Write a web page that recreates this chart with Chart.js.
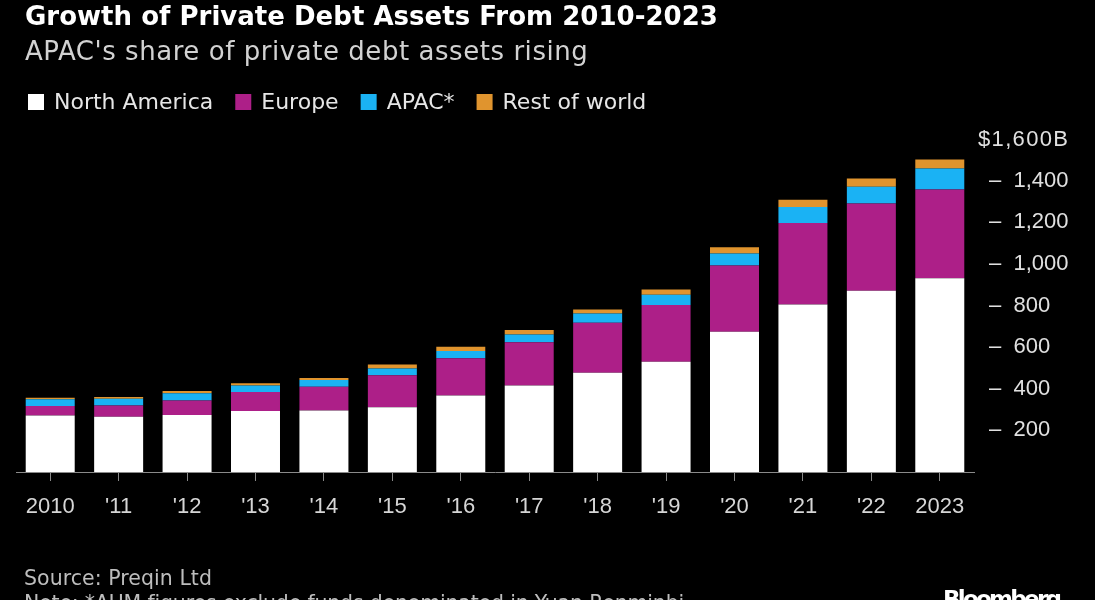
<!DOCTYPE html>
<html>
<head>
<meta charset="utf-8">
<script src="https://cdn.jsdelivr.net/npm/chart.js@4.4.4/dist/chart.umd.min.js"></script>
<style>
  html, body { margin: 0; padding: 0; background: #000; }
  #wrap { width: 1095px; height: 600px; overflow: hidden; background: #000; }
</style>
</head>
<body>
<div id="wrap"><canvas id="chart" width="1095" height="600"></canvas></div>
<script>
  // values in $B
  const years = ['2010', "'11", "'12", "'13", "'14", "'15", "'16", "'17", "'18", "'19", "'20", "'21", "'22", '2023'];
  const northAmerica = [272, 266, 274, 293, 295, 311, 368, 416, 477, 530, 674, 805, 871, 931];
  const europe = [45, 54, 70, 91, 115, 154, 178, 208, 240, 272, 318, 391, 419, 426];
  const apac = [32, 32, 34, 32, 32, 32, 35, 37, 45, 50, 58, 77, 80, 101];
  const restOfWorld = [8, 8, 11, 11, 10, 19, 21, 21, 19, 25, 30, 35, 40, 43];
  const yTicks = [200, 400, 600, 800, 1000, 1200, 1400];

  const TEXT_FONT = '"DejaVu Sans", "Liberation Sans", sans-serif';
  const NUM_FONT = '"Liberation Sans", Arial, sans-serif';

  const series = [
    { label: 'North America', data: northAmerica, color: '#ffffff' },
    { label: 'Europe', data: europe, color: '#ad1f88' },
    { label: 'APAC*', data: apac, color: '#1ab2f4' },
    { label: 'Rest of world', data: restOfWorld, color: '#e0942e' }
  ];

  // draw a line of text, optionally stretched with letter spacing to a target width
  function drawText(ctx, str, x, y, font, color, targetW) {
    ctx.font = font;
    ctx.fillStyle = color;
    ctx.letterSpacing = '0px';
    if (targetW) {
      const w = ctx.measureText(str).width;
      ctx.letterSpacing = ((targetW - w) / (str.length - 1)).toFixed(2) + 'px';
    }
    ctx.fillText(str, x, y);
    ctx.letterSpacing = '0px';
  }

  // header, legend, footer and the top "$1,600B" label
  const decorations = {
    id: 'decorations',
    afterDraw: function (chart) {
      const ctx = chart.ctx;
      ctx.save();
      ctx.textAlign = 'left';
      ctx.textBaseline = 'alphabetic';

      drawText(ctx, 'Growth of Private Debt Assets From 2010-2023', 25, 25, 'bold 26px ' + TEXT_FONT, '#ffffff', 693);
      drawText(ctx, "APAC's share of private debt assets rising", 25, 60, '26px ' + TEXT_FONT, '#d2d2d2', 563);

      // legend
      let x = 28;
      ctx.font = '22px ' + TEXT_FONT;
      series.forEach(function (s) {
        ctx.fillStyle = s.color;
        ctx.fillRect(x, 94, 16, 16);
        x += 26;
        ctx.fillStyle = '#e6e6e6';
        ctx.fillText(s.label, x, 109);
        x += ctx.measureText(s.label).width + 22;
      });

      drawText(ctx, 'Source: Preqin Ltd', 24, 585, '20.5px ' + TEXT_FONT, '#bdbdbd', 188);
      drawText(ctx, 'Note: *AUM figures exclude funds denominated in Yuan Renminbi', 24, 610, '20.5px ' + TEXT_FONT, '#bdbdbd', 660);
      drawText(ctx, 'Bloomberg', 943, 607, 'bold 23px ' + TEXT_FONT, '#ffffff', 119);

      const y = chart.scales.y;
      ctx.textBaseline = 'middle';
      drawText(ctx, '$1,600B', chart.chartArea.right + 4, y.getPixelForValue(1600) + 1, '22px ' + NUM_FONT, '#e0e0e0', 90);
      ctx.restore();
    }
  };

  new Chart(document.getElementById('chart').getContext('2d'), {
    type: 'bar',
    data: {
      labels: years,
      datasets: series.map(function (s) {
        return {
          label: s.label,
          data: s.data,
          backgroundColor: s.color,
          borderWidth: 0,
          categoryPercentage: 1,
          barPercentage: 0.716
        };
      })
    },
    options: {
      responsive: false,
      animation: false,
      events: [],
      layout: { padding: { top: 139, left: 16, right: 0, bottom: 0 } },
      plugins: { legend: { display: false }, tooltip: { enabled: false } },
      scales: {
        x: {
          stacked: true,
          afterFit: function (scale) { scale.height = 128; },
          grid: { display: true, drawOnChartArea: false, offset: false, color: '#8a8a8a', tickLength: 9, lineWidth: 1 },
          border: { display: true, color: '#8a8a8a', width: 1 },
          ticks: { color: '#d6d6d6', font: { family: NUM_FONT, size: 22 }, padding: 13, maxRotation: 0, autoSkip: false }
        },
        y: {
          stacked: true,
          position: 'right',
          min: 0,
          max: 1600,
          afterFit: function (scale) { scale.width = 121; },
          afterBuildTicks: function (scale) {
            scale.ticks = yTicks.map(function (v) { return { value: v }; });
          },
          grid: { display: false },
          border: { display: false },
          ticks: {
            color: '#e0e0e0',
            font: { family: NUM_FONT, size: 22 },
            padding: 7,
            crossAlign: 'near',
            callback: function (v) { return '–  ' + v.toLocaleString('en-US'); }
          }
        }
      }
    },
    plugins: [decorations]
  });
</script>
</body>
</html>
